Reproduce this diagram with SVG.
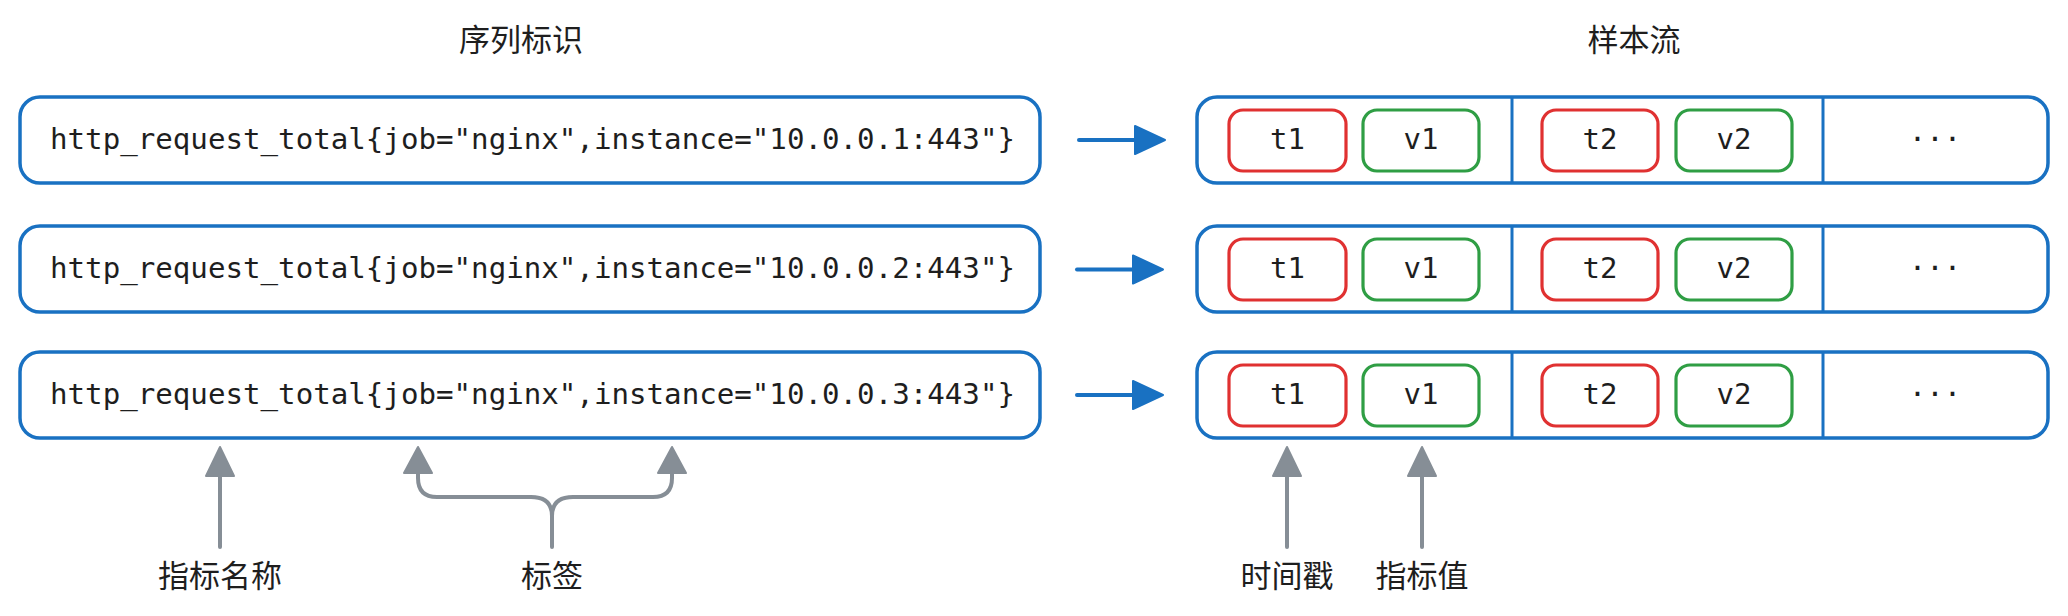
<svg xmlns="http://www.w3.org/2000/svg" width="2068" height="616" viewBox="0 0 2068 616">
<defs>
<style>
.bg{fill:#ffffff}
.box{fill:#ffffff;stroke:#1971c2;stroke-width:3.5}
.div{stroke:#1971c2;stroke-width:3}
.tbox{fill:none;stroke:#e03131;stroke-width:3.2}
.vbox{fill:none;stroke:#2f9e44;stroke-width:3.2}
.mono{font-family:"DejaVu Sans Mono","Liberation Mono",monospace;font-size:29px;fill:#1e1e1e}
.cjk{font-family:"Noto Sans CJK SC","Noto Sans",sans-serif;font-size:31px;fill:#1e1e1e;text-anchor:middle;dominant-baseline:central}
.mid{text-anchor:middle}
.barrow{stroke:#1971c2;stroke-width:4;stroke-linecap:round;fill:none}
.bhead{fill:#1971c2;stroke:#1971c2;stroke-width:2;stroke-linejoin:round}
.garrow{stroke:#868e96;stroke-width:4;stroke-linecap:round;fill:none}
.ghead{fill:#868e96;stroke:#868e96;stroke-width:2;stroke-linejoin:round}
</style>
</defs>
<rect class="bg" x="0" y="0" width="2068" height="616"/>

<g id="title-series"><text class="cjk" x="521" y="37">序列标识</text></g>
<g id="title-samples"><text class="cjk" x="1634" y="37">样本流</text></g>

<g id="series-1">
<rect class="box" x="20" y="97" width="1020" height="86" rx="20"/>
<text class="mono" x="50" y="148.5" textLength="965" lengthAdjust="spacingAndGlyphs">http_request_total{job="nginx",instance="10.0.0.1:443"}</text>
</g>
<g id="series-2">
<rect class="box" x="20" y="226" width="1020" height="86" rx="20"/>
<text class="mono" x="50" y="277.5" textLength="965" lengthAdjust="spacingAndGlyphs">http_request_total{job="nginx",instance="10.0.0.2:443"}</text>
</g>
<g id="series-3">
<rect class="box" x="20" y="352" width="1020" height="86" rx="20"/>
<text class="mono" x="50" y="403.5" textLength="965" lengthAdjust="spacingAndGlyphs">http_request_total{job="nginx",instance="10.0.0.3:443"}</text>
</g>

<g id="samples-1">
<rect class="box" x="1197" y="97" width="851" height="86" rx="20"/>
<line class="div" x1="1512" y1="97" x2="1512" y2="183"/>
<line class="div" x1="1823" y1="97" x2="1823" y2="183"/>
<rect class="tbox" x="1229" y="110" width="117" height="61" rx="14"/>
<rect class="vbox" x="1363" y="110" width="116" height="61" rx="14"/>
<rect class="tbox" x="1542" y="110" width="116" height="61" rx="14"/>
<rect class="vbox" x="1676" y="110" width="116" height="61" rx="14"/>
<text class="mono mid" x="1287.5" y="148.5">t1</text>
<text class="mono mid" x="1421" y="148.5">v1</text>
<text class="mono mid" x="1600" y="148.5">t2</text>
<text class="mono mid" x="1734" y="148.5">v2</text>
<text class="mono mid" x="1935" y="148.5">···</text>
</g>
<g id="samples-2">
<rect class="box" x="1197" y="226" width="851" height="86" rx="20"/>
<line class="div" x1="1512" y1="226" x2="1512" y2="312"/>
<line class="div" x1="1823" y1="226" x2="1823" y2="312"/>
<rect class="tbox" x="1229" y="239" width="117" height="61" rx="14"/>
<rect class="vbox" x="1363" y="239" width="116" height="61" rx="14"/>
<rect class="tbox" x="1542" y="239" width="116" height="61" rx="14"/>
<rect class="vbox" x="1676" y="239" width="116" height="61" rx="14"/>
<text class="mono mid" x="1287.5" y="277.5">t1</text>
<text class="mono mid" x="1421" y="277.5">v1</text>
<text class="mono mid" x="1600" y="277.5">t2</text>
<text class="mono mid" x="1734" y="277.5">v2</text>
<text class="mono mid" x="1935" y="277.5">···</text>
</g>
<g id="samples-3">
<rect class="box" x="1197" y="352" width="851" height="86" rx="20"/>
<line class="div" x1="1512" y1="352" x2="1512" y2="438"/>
<line class="div" x1="1823" y1="352" x2="1823" y2="438"/>
<rect class="tbox" x="1229" y="365" width="117" height="61" rx="14"/>
<rect class="vbox" x="1363" y="365" width="116" height="61" rx="14"/>
<rect class="tbox" x="1542" y="365" width="116" height="61" rx="14"/>
<rect class="vbox" x="1676" y="365" width="116" height="61" rx="14"/>
<text class="mono mid" x="1287.5" y="403.5">t1</text>
<text class="mono mid" x="1421" y="403.5">v1</text>
<text class="mono mid" x="1600" y="403.5">t2</text>
<text class="mono mid" x="1734" y="403.5">v2</text>
<text class="mono mid" x="1935" y="403.5">···</text>
</g>

<g id="label-metric-name"><text class="cjk" x="220" y="573">指标名称</text></g>
<g id="label-labels"><text class="cjk" x="552" y="573">标签</text></g>
<g id="label-timestamp"><text class="cjk" x="1287" y="573">时间戳</text></g>
<g id="label-value"><text class="cjk" x="1422" y="573">指标值</text></g>

<g id="connectors">
<line class="barrow" x1="1079" y1="140" x2="1137" y2="140"/>
<polygon class="bhead" points="1135,126 1165,140 1135,154"/>
<line class="barrow" x1="1077" y1="269.5" x2="1135" y2="269.5"/>
<polygon class="bhead" points="1133,255.5 1163,269.5 1133,283.5"/>
<line class="barrow" x1="1077" y1="395" x2="1135" y2="395"/>
<polygon class="bhead" points="1133,381 1163,395 1133,409"/>

<line class="garrow" x1="220" y1="547" x2="220" y2="475"/>
<polygon class="ghead" points="206,476 220,447 234,476"/>

<path class="garrow" d="M418 473 V478 Q418 497 437 497 H531 Q552 497 552 516 V547"/>
<path class="garrow" d="M672 473 V478 Q672 497 653 497 H573 Q552 497 552 516"/>
<polygon class="ghead" points="404,473 418,447 432,473"/>
<polygon class="ghead" points="658,473 672,447 686,473"/>

<line class="garrow" x1="1287" y1="547" x2="1287" y2="475"/>
<polygon class="ghead" points="1273,476 1287,447 1301,476"/>
<line class="garrow" x1="1422" y1="547" x2="1422" y2="475"/>
<polygon class="ghead" points="1408,476 1422,447 1436,476"/>
</g>
</svg>
